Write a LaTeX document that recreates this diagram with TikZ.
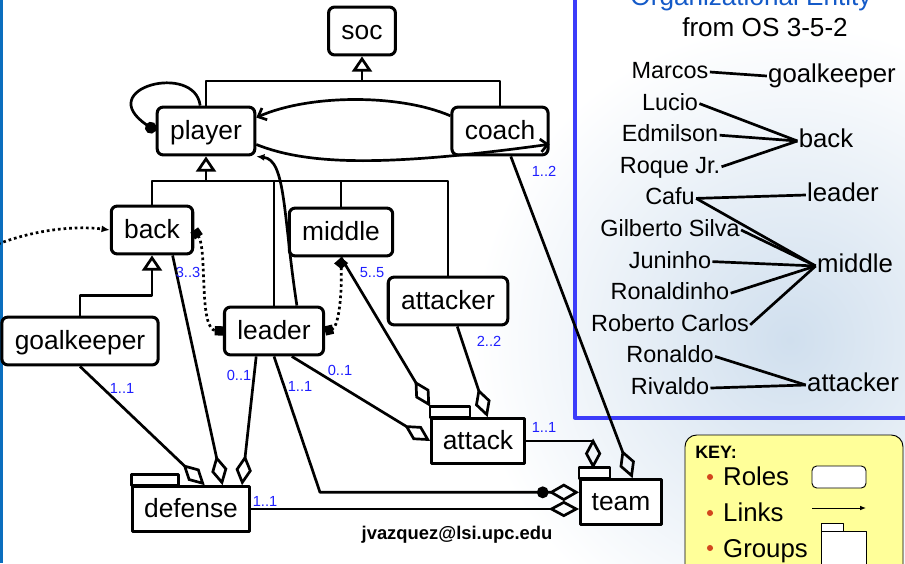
\documentclass[tikz,border=0pt]{standalone}
\usepackage{fontspec}
\setmainfont{Liberation Sans}
\usetikzlibrary{positioning}
\usetikzlibrary{arrows.meta}
\definecolor{multblue}{RGB}{30,30,255}
\definecolor{oeblue}{RGB}{60,60,250}
\definecolor{oetitle}{RGB}{20,90,200}
\definecolor{keyfill}{RGB}{255,255,153}
\definecolor{bulletred}{RGB}{210,70,30}
\definecolor{wmark}{RGB}{208,223,238}
\definecolor{slideblue}{RGB}{10,110,190}

\begin{document}
\begin{tikzpicture}[x=0.03cm,y=-0.03cm,line join=round,
  role/.style={draw,fill=white,rounded corners=5pt,line width=2.6pt,minimum height=40.8pt,
    inner xsep=11pt,font=\fontsize{22.5}{27}\selectfont,text height=19.5pt,text depth=4.3pt},
  group/.style={draw,fill=white,line width=2.6pt,minimum height=38pt,inner xsep=9.5pt,
    font=\fontsize{22.5}{27}\selectfont,text height=19pt,text depth=4.3pt},
  link/.style={line width=2.3pt},
  dotlink/.style={line width=2.3pt,dash pattern=on 2.3pt off 2.5pt},
  isa/.style={link,-{Triangle[open,length=13pt,width=17pt]}},
  part/.style={link,-{Diamond[open,length=26pt,width=14pt]}},
  mult/.style={text=multblue,font=\fontsize{12.5}{14}\selectfont,inner sep=0pt},
  who/.style={font=\fontsize{20}{24}\selectfont,inner sep=1pt,text height=15pt,text depth=4pt},
  oerole/.style={font=\fontsize{22}{26}\selectfont,inner sep=1pt,text height=16pt,text depth=4.5pt},
  keytext/.style={font=\fontsize{22}{26}\selectfont,anchor=base west,inner sep=0pt}]
  \useasboundingbox (0,0) rectangle (905,563);
  % slide background
  \shade[inner color=wmark,outer color=white] (790,340) circle [radius=9.5cm];
  \fill[slideblue] (0,0) rectangle (3,563);

  % organizational entity
  \draw[oeblue,line width=2.8pt] (575,-20) rectangle (930,418);
  \node[text=oetitle,font=\fontsize{22.3}{26}\selectfont,anchor=base] (oetitle) at (751,6) {Organizational Entity};
  \node[font=\fontsize{22.3}{26}\selectfont,anchor=base] (oefrom) at (765,37) {from OS 3-5-2};
  \begin{scope}[node distance=0.948cm,on grid]
    \node[who] (marcos) at (670,72) {Marcos};
    \node[who] (lucio) [below=of marcos] {Lucio};
    \node[who] (edmilson) [below=of lucio] {Edmilson};
    \node[who] (roque) [below=of edmilson] {Roque Jr.};
    \node[who] (cafu) [below=of roque] {Cafu};
    \node[who] (gilberto) [below=of cafu] {Gilberto Silva};
    \node[who] (juninho) [below=of gilberto] {Juninho};
    \node[who] (ronaldinho) [below=of juninho] {Ronaldinho};
    \node[who] (roberto) [below=of ronaldinho] {Roberto Carlos};
    \node[who] (ronaldo) [below=of roberto] {Ronaldo};
    \node[who] (rivaldo) [below=of ronaldo] {Rivaldo};
  \end{scope}
  \node[oerole] (rgk) at (832,76) {goalkeeper};
  \node[oerole] (rback) at (826,141) {back};
  \node[oerole] (rleader) at (843,195) {leader};
  \node[oerole] (rmiddle) at (855,266) {middle};
  \node[oerole] (rattacker) at (853,385) {attacker};
  \draw[link] (marcos.east) -- (rgk.west);
  \foreach \p in {lucio,edmilson,roque}
    \draw[link] (\p.east) -- (rback.west);
  \draw[link] (cafu.east) -- (rleader.west);
  \foreach \p in {cafu,gilberto,juninho,ronaldinho,roberto}
    \draw[link] (\p.east) -- (rmiddle.west);
  \foreach \p in {ronaldo,rivaldo}
    \draw[link] (\p.east) -- (rattacker.west);

  % roles and groups
  \node[role] (soc) at (362,31) {soc};
  \node[role] (player) at (206,131) {player};
  \node[role] (coach) at (500,131) {coach};
  \node[role] (back) at (152,230) {back};
  \node[role] (middle) at (341,232) {middle};
  \node[role] (attacker) at (448,301) {attacker};
  \node[role] (gk) at (80,341) {goalkeeper};
  \node[role] (leader) at (274,331) {leader};
  \node[group] (defense) at (191,509) {defense};
  \node[group] (attack) at (478,441) {attack};
  \node[group] (team) at (621,502) {team};
  \foreach \g/\w in {defense/47,attack/40,team/31}
    \draw[line width=2.2pt,fill=white] (\g.north west) rectangle ++(\w,-11);

  % inheritance
  \coordinate (sbus) at (362,81);
  \coordinate (pbus) at (206,181);
  \draw[isa] (sbus) -- (soc.south);
  \draw[link] (player.north) |- (sbus) -| (coach.north);
  \draw[isa] (pbus) -- (player.south);
  \draw[link] (back.north) |- (pbus) -| (attacker.north);
  \draw[link] (middle.north) -- (middle.north |- pbus);
  \draw[link] (leader.north) -- (leader.north |- pbus);
  \draw[isa] (gk.north) -- ++(0,-20) -| (back.south);

  % links
  \draw[link,-{Circle[length=10pt]}] ([xshift=-5pt]player.north) .. controls (195,62) and (92,88) .. (player.west);
  \draw[link,-{Straight Barb[length=6pt,width=11pt]}] (coach.163) .. controls (400,94) and (310,94) .. (player.15);
  \draw[link,-{Straight Barb[length=6pt,width=11pt]}] (player.-15) .. controls (310,166) and (390,166) .. (coach.-15);
  \draw[link,-{Latex[length=7pt,width=6pt]}] (leader.48) .. controls (283,215) and (286,160) .. (player.south east);
  \coordinate (offleft) at (-2,244);
  \draw[dotlink,-{Latex[length=7pt,width=6pt]}] (offleft) .. controls (40,228) and (80,226) .. (back.west);
  \draw[dotlink,{Square[length=7pt,width=8pt]}-{Square[length=7pt,width=8pt]}] (back.east) .. controls (208,250) and (198,330) .. (leader.west);
  \draw[dotlink,{Diamond[length=10pt,width=12pt]}-{Square[length=7pt,width=8pt]}] (middle.south) .. controls (342,300) and (338,328) .. (leader.east);

  % compositions
  \draw[part] (gk.south) -- (defense.60);
  \draw[part] (back.-51) -- (defense.37);
  \draw[part] (leader.-125) -- (defense.25);
  \draw[part] (leader.-55) -- (attack.west);
  \draw[part] (middle.south) -- ([yshift=9pt]attack.north west);
  \draw[part] (attacker.-70) -- (attack.68);
  \draw[link,-{Circle[length=10pt] Diamond[open,length=26pt,width=15pt]}] (leader.south) -- (320,0 |- team.167) -- (team.167);
  \draw[part] (defense.east) -- (defense.east -| team.west);
  \draw[part] (attack.east) -| ([xshift=12pt,yshift=8pt]team.north west);
  \draw[part] (coach.-67) -- (team.64);

  % cardinalities
  \node[mult] (m12) at (544,171) {1..2};
  \node[mult] (m33) at (188,272) {3..3};
  \node[mult] (m55) at (372,273) {5..5};
  \node[mult] (m22) at (489,341) {2..2};
  \node[mult] (m01a) at (340,370) {0..1};
  \node[mult] (m01d) at (239,375) {0..1};
  \node[mult] (m11t) at (300,386) {1..1};
  \node[mult] (m11g) at (122,388) {1..1};
  \node[mult] (m11d) at (265,501) {1..1};
  \node[mult] (m11a) at (544,427) {1..1};

  \node[font=\bfseries\fontsize{15.7}{18}\selectfont,anchor=base] (email) at (457,539) {jvazquez@lsi.upc.edu};

  % key
  \draw[fill=keyfill,rounded corners=10pt,line width=0.8pt] (685,435) rectangle (903,620);
  \node[font=\bfseries\fontsize{15.3}{18}\selectfont] (key) at (716,452) {KEY:};
  \foreach \y in {477,513,548}
    \fill[bulletred] (710,\y) circle [radius=2.6pt];
  \node[keytext] (kroles) at (723,485) {Roles};
  \node[keytext] (klinks) at (723,521) {Links};
  \node[keytext] (kgroups) at (723,557) {Groups};
  \draw[fill=white,rounded corners=4pt,line width=0.8pt] (812,466) rectangle (866,488);
  \draw[line width=0.8pt,-{Latex[length=5pt,width=4pt]}] (812,508) -- (866,508);
  \draw[fill=white,line width=0.8pt] (821,523) rectangle (843,531);
  \draw[fill=white,line width=0.8pt] (821,531) rectangle (866,580);
\end{tikzpicture}
\end{document}
